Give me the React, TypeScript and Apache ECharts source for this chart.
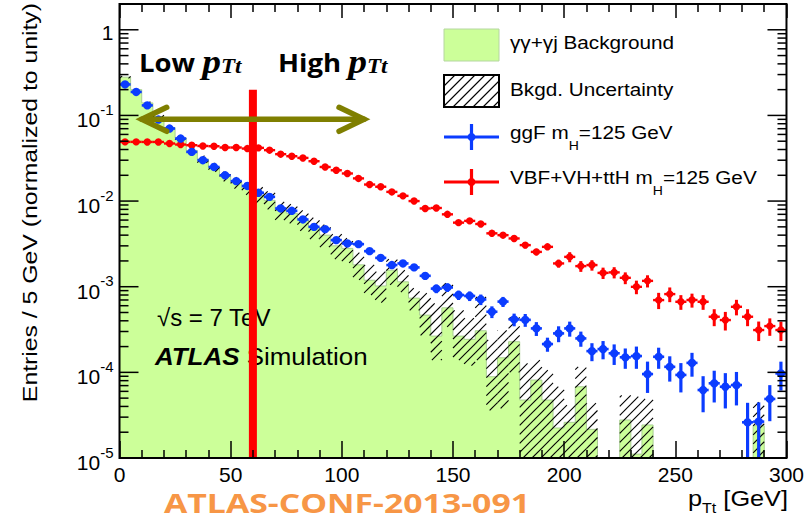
import React, { useEffect, useRef } from 'react';
import * as echarts from 'echarts';

// Binning of the p_Tt histogram (GeV)
const BIN_WIDTH = 5;
const X_MIN = 0;
const X_MAX = 300;
const Y_MIN = 1e-5;
const Y_MAX = 2;

// gamma-gamma + gamma-jet background, per bin (normalized)
const bkgValues = [
  0.28, 0.2, 0.14, 0.097, 0.072, 0.054, 0.039, 0.031, 0.025, 0.0195,
  0.0165, 0.0142, 0.0117, 0.0102, 0.0078, 0.0072, 0.006, 0.0049, 0.004, 0.003,
  0.0028, 0.0018, 0.00119, 0.00102, 0.00156, 0.00114, 0.000736, 0.000466, 0.000265, 0.000567,
  0.000265, 0.000243, 0.000306, 0.0000889, 0.000148, 0.000228, 0.0000475, 0.0000813, 0.0000475, 0.0000224,
  0.0000261, 0.0000679, 0.0000216, 0, 0, 0.0000278, 0.0000111, 0.0000243, 0, 0,
  0, 0, 0, 0, 0, 0, 0, 0.0000238, 0, 0,
];

// Upper / lower edges of the background uncertainty band
const bkgUpper = [
  0.29, 0.207, 0.145, 0.101, 0.076, 0.058, 0.042, 0.034, 0.028, 0.022,
  0.019, 0.017, 0.0145, 0.013, 0.0098, 0.0092, 0.0078, 0.0064, 0.0053, 0.0041,
  0.0037, 0.0025, 0.0018, 0.0015, 0.0021, 0.00156, 0.00096, 0.00084, 0.00064, 0.0011,
  0.00053, 0.00043, 0.00076, 0.00024, 0.00031, 0.00044, 0.000127, 0.000139, 0.000106, 0.000068,
  0.0000415, 0.000116, 0.0000438, 0, 0, 0.000054, 0.000052, 0.000049, 0, 0,
  0, 0, 0, 0, 0, 0, 0, 0.000045, 0, 0,
];
const bkgLower = [
  0.27, 0.193, 0.135, 0.093, 0.068, 0.05, 0.036, 0.028, 0.022, 0.017,
  0.014, 0.0118, 0.0093, 0.008, 0.006, 0.0055, 0.0045, 0.0036, 0.0029, 0.0021,
  0.0019, 0.0012, 0.0008, 0.00065, 0.00105, 0.000865, 0.00053, 0.00027, 0.000139, 0.00034,
  0.000139, 0.00012, 0.000139, 0.000036, 0.000038, 0.0001, 0, 0, 0, 0,
  0, 0, 0, 0, 0, 0, 0, 0, 0, 0,
  0, 0, 0, 0, 0, 0, 0, 0, 0, 0,
];

// ggF, m_H = 125 GeV
const ggfValues = [
  0.23, 0.188, 0.131, 0.0895, 0.0703, 0.0537, 0.0375, 0.03, 0.025, 0.02,
  0.0171, 0.015, 0.0125, 0.0112, 0.0082, 0.0077, 0.0061, 0.005, 0.0047, 0.0035,
  0.0032, 0.00314, 0.0026, 0.00217, 0.00179, 0.00187, 0.00168, 0.00134, 0.00095, 0.00098,
  0.0008, 0.00078, 0.00071, 0.00051, 0.00067, 0.000415, 0.00041, 0.000326, 0.000214, 0.000285,
  0.000326, 0.000249, 0.000177, 0.000187, 0.000167, 0.00015, 0.000155, 0.0000955, 0.000152, 0.000116,
  0.0000933, 0.000129, 0.0000622, 0.0000745, 0.0000679, 0.0000711, 0.0000261, 0.0000266, 0.0000489, 0.0000973,
];
const ggfErrors = [
  0.002, 0.0018, 0.0015, 0.0012, 0.0011, 0.0009, 0.0008, 0.0007, 0.0006, 0.0005,
  0.0005, 0.0005, 0.0004, 0.0004, 0.0003, 0.0003, 0.0003, 0.0003, 0.0003, 0.0002,
  0.0002, 0.0002, 0.00018, 0.00017, 0.00015, 0.00015, 0.00015, 0.00013, 0.00011, 0.00011,
  0.0001, 0.0001, 0.0001, 0.00008, 0.00009, 0.00007, 0.00007, 0.00006, 0.00004, 0.00006,
  0.000065, 0.00005, 0.000042, 0.000045, 0.000045, 0.00004, 0.000045, 0.000038, 0.000042, 0.000038,
  0.000035, 0.00004, 0.000028, 0.00003, 0.00003, 0.00003, 0.000018, 0.000018, 0.000022, 0.000036,
];

// VBF + VH + ttH, m_H = 125 GeV
const vbfValues = [
  0.0491, 0.0491, 0.049, 0.049, 0.047, 0.0457, 0.0449, 0.044, 0.0437, 0.0422,
  0.0422, 0.041, 0.0418, 0.0393, 0.0353, 0.0334, 0.0319, 0.0292, 0.025, 0.0229,
  0.021, 0.0184, 0.0156, 0.0147, 0.0128, 0.0115, 0.01, 0.0082, 0.0083, 0.007,
  0.0056, 0.00587, 0.0054, 0.0042, 0.004, 0.00366, 0.00306, 0.00255, 0.00292, 0.00187,
  0.00223, 0.00174, 0.00179, 0.00145, 0.00147, 0.00127, 0.000997, 0.00117, 0.000698, 0.00082,
  0.000667, 0.0007, 0.000667, 0.000446, 0.000408, 0.000583, 0.000446, 0.000312, 0.000347, 0.000312,
];
const vbfErrors = [
  0.0008, 0.0008, 0.0008, 0.0008, 0.0008, 0.0008, 0.0007, 0.0007, 0.0007, 0.0007,
  0.0006, 0.0006, 0.0006, 0.0006, 0.0006, 0.0005, 0.0005, 0.0005, 0.0005, 0.0005,
  0.0005, 0.0005, 0.0004, 0.0004, 0.0004, 0.0003, 0.0003, 0.0003, 0.0003, 0.0003,
  0.0004, 0.0004, 0.0004, 0.0003, 0.0003, 0.0003, 0.00025, 0.00022, 0.00024, 0.0002,
  0.0003, 0.00025, 0.00025, 0.00022, 0.00022, 0.0002, 0.00018, 0.00019, 0.00015, 0.00016,
  0.00013, 0.00013, 0.00013, 0.0001, 0.0001, 0.00012, 0.0001, 0.00008, 0.00008, 0.00008,
];

// Decades that carry a y tick label
const yLabelExponents = [-5, -4, -3, -2, -1, 0];
// Minor-tick multipliers inside each decade
const yTickMultipliers = [1, 2, 3, 4, 5, 6, 7, 8, 9];

// Low / high p_Tt separation and arrow span (GeV, arrow height)
const CUT_X = 60;
const CUT_TOP = 0.2;
const ARROW_FROM = 10;
const ARROW_TO = 110;
const ARROW_Y = 0.09;

const FONT = "'Liberation Sans', Arial, Helvetica, sans-serif";
const GREEN = '#ccff99';
const BLUE = '#0b3cff';
const RED = '#ff0000';

// "/" hatch segments clipped to a rectangle (x + y = const families)
function hatchLines(x0: number, y0: number, x1: number, y1: number, step: number) {
  const out: number[][] = [];
  const start = Math.ceil((x0 + y0) / step) * step;
  for (let c = start; c <= x1 + y1; c += step) {
    const xa = Math.max(x0, c - y1);
    const xb = Math.min(x1, c - y0);
    if (xb > xa) out.push([xa, c - xa, xb, c - xb]);
  }
  return out;
}

function binLow(i: number) {
  return X_MIN + i * BIN_WIDTH;
}

function pointSeries(name: string, values: number[], errors: number[], color: string, r: number, w: number) {
  const data = values.map((v, i) => [binLow(i) + BIN_WIDTH / 2, v, errors[i], binLow(i), binLow(i) + BIN_WIDTH]);
  return {
    type: 'custom',
    name,
    z: 4,
    silent: true,
    clip: true,
    encode: { x: 0, y: 1 },
    data,
    renderItem: (_p: any, api: any) => {
      const x = api.value(0);
      const v = api.value(1);
      const e = api.value(2);
      const c = api.coord([x, v]);
      const l = api.coord([api.value(3), v]);
      const h = api.coord([api.value(4), v]);
      const top = api.coord([x, v + e]);
      const bot = api.coord([x, Math.max(v - e, Y_MIN)]);
      return {
        type: 'group',
        children: [
          { type: 'line', shape: { x1: l[0], y1: c[1], x2: h[0], y2: c[1] }, style: { stroke: color, lineWidth: w } },
          { type: 'line', shape: { x1: c[0], y1: top[1], x2: c[0], y2: bot[1] }, style: { stroke: color, lineWidth: w + 0.6 } },
          { type: 'circle', shape: { cx: c[0], cy: c[1], r }, style: { fill: color } },
        ],
      };
    },
  };
}

function buildOption() {
  const bandData: number[][] = [];
  bkgUpper.forEach((up, i) => {
    if (up > 0) bandData.push([binLow(i), binLow(i) + BIN_WIDTH, up, Math.max(bkgLower[i], Y_MIN)]);
  });

  const legendHatch = hatchLines(444, 75, 499, 107, 10).map((l) => ({
    type: 'line',
    z: 10,
    shape: { x1: l[0], y1: l[1], x2: l[2], y2: l[3] },
    style: { stroke: '#000', lineWidth: 1.1 },
  }));

  const legendText = (y: number, text: string) => ({
    type: 'text',
    z: 10,
    x: 510,
    y,
    scaleX: 1.12,
    style: {
      text,
      fill: '#000',
      font: `18.5px ${FONT}`,
      align: 'left',
      verticalAlign: 'middle',
      rich: {
        t: { fontSize: 18.5, fontFamily: FONT, lineHeight: 20 },
        h: { fontSize: 12.5, fontFamily: FONT, lineHeight: 12, padding: [28, 0, 0, 0] },
      },
    },
  });

  const markerIcon = (y: number, color: string) => [
    { type: 'line', z: 10, shape: { x1: 444, y1: y, x2: 499, y2: y }, style: { stroke: color, lineWidth: 3 } },
    { type: 'line', z: 10, shape: { x1: 471.5, y1: y - 13, x2: 471.5, y2: y + 13 }, style: { stroke: color, lineWidth: 3.2 } },
    { type: 'circle', z: 10, shape: { cx: 471.5, cy: y, r: 4 }, style: { fill: color } },
  ];

  const pttRich = {
    b: { fontFamily: "'Open Sans', sans-serif", fontWeight: 'bold', fontSize: 25, lineHeight: 32 },
    p: { fontFamily: "'Liberation Serif', serif", fontStyle: 'italic', fontWeight: 'bold', fontSize: 34, lineHeight: 32 },
    s: { fontFamily: "'Liberation Serif', serif", fontStyle: 'italic', fontWeight: 'bold', fontSize: 21, lineHeight: 22, padding: [8, 0, 0, 0] },
  };

  return {
    animation: false,
    grid: { left: 119.5, right: 19, top: 4, bottom: 62 },
    xAxis: [
      {
        type: 'value',
        min: X_MIN,
        max: X_MAX,
        interval: 50,
        position: 'bottom',
        z: 6,
        axisLine: { show: false },
        axisTick: { show: true, inside: true, length: 17, lineStyle: { color: '#000', width: 1.5 } },
        minorTick: { show: true, splitNumber: 5, length: 8, lineStyle: { color: '#000', width: 1.5 } },
        splitLine: { show: false },
        minorSplitLine: { show: false },
        axisLabel: { color: '#000', fontFamily: FONT, fontSize: 21, margin: 6 },
      },
      {
        type: 'value',
        min: X_MIN,
        max: X_MAX,
        interval: 50,
        position: 'top',
        z: 6,
        axisLine: { show: false },
        axisTick: { show: true, inside: true, length: 14, lineStyle: { color: '#000', width: 1.5 } },
        minorTick: { show: true, splitNumber: 5, length: 8, lineStyle: { color: '#000', width: 1.5 } },
        splitLine: { show: false },
        minorSplitLine: { show: false },
        axisLabel: { show: false },
      },
    ],
    yAxis: {
      type: 'log',
      logBase: 10,
      min: Y_MIN,
      max: Y_MAX,
      axisLine: { show: false },
      axisTick: { show: false },
      splitLine: { show: false },
      minorTick: { show: false },
      axisLabel: {
        margin: 6,
        color: '#000',
        fontFamily: FONT,
        formatter: (v: number) => {
          const e = Math.log10(v);
          const n = Math.round(e);
          if (Math.abs(e - n) > 1e-3 || yLabelExponents.indexOf(n) < 0) return '';
          if (n === 0) return '{one|1}';
          return `{b|10}{s|${n}}`;
        },
        rich: {
          one: { fontSize: 21, fontFamily: FONT, color: '#000', padding: [6, 0, 0, 0] },
          b: { fontSize: 21, fontFamily: FONT, color: '#000', padding: [9, 0, 0, 0] },
          s: { fontSize: 15, fontFamily: FONT, color: '#000', padding: [0, 0, 12, 0] },
        },
      },
    },
    series: [
      {
        type: 'custom',
        name: 'γγ+γj Background',
        z: 1,
        silent: true,
        clip: true,
        data: [[X_MIN, Y_MIN]],
        renderItem: (_p: any, api: any) => {
          const bottom = api.coord([X_MIN, Y_MIN])[1];
          const pts: number[][] = [api.coord([X_MIN, Y_MIN])];
          bkgValues.forEach((v, i) => {
            const xl = api.coord([binLow(i), Y_MIN])[0];
            const xh = api.coord([binLow(i) + BIN_WIDTH, Y_MIN])[0];
            const y = v > 0 ? api.coord([binLow(i), Math.max(v, Y_MIN)])[1] : bottom;
            pts.push([xl, y], [xh, y]);
          });
          pts.push([api.coord([X_MAX, Y_MIN])[0], bottom]);
          return {
            type: 'group',
            children: [
              { type: 'polygon', shape: { points: pts }, style: { fill: GREEN } },
              { type: 'polyline', shape: { points: pts }, style: { stroke: '#a9cf92', lineWidth: 1, fill: null } },
            ],
          };
        },
      },
      {
        type: 'custom',
        name: 'Bkgd. Uncertainty',
        z: 2,
        silent: true,
        clip: true,
        encode: { x: [0, 1], y: [2, 3] },
        data: bandData,
        renderItem: (_p: any, api: any) => {
          const a = api.coord([api.value(0), api.value(2)]);
          const b = api.coord([api.value(1), api.value(3)]);
          const lines = hatchLines(a[0], a[1], b[0], b[1], 9);
          return {
            type: 'group',
            children: lines.map((l) => ({
              type: 'line',
              shape: { x1: l[0], y1: l[1], x2: l[2], y2: l[3] },
              style: { stroke: '#000', lineWidth: 1.1 },
            })),
          };
        },
      },
      pointSeries('VBF+VH+ttH', vbfValues, vbfErrors, RED, 3.7, 2.4),
      pointSeries('ggF', ggfValues, ggfErrors, BLUE, 4.2, 2.6),
      {
        type: 'custom',
        name: 'cut',
        z: 5,
        silent: true,
        data: [[CUT_X, CUT_TOP]],
        renderItem: (_p: any, api: any) => {
          const t = api.coord([CUT_X, CUT_TOP]);
          const b = api.coord([CUT_X, Y_MIN]);
          const l = api.coord([ARROW_FROM, ARROW_Y]);
          const r = api.coord([ARROW_TO, ARROW_Y]);
          const olive = { stroke: '#7f7f00', lineWidth: 5.5, lineCap: 'round' };
          return {
            type: 'group',
            children: [
              { type: 'line', shape: { x1: t[0], y1: t[1], x2: b[0], y2: b[1] }, style: { stroke: RED, lineWidth: 8 } },
              { type: 'line', shape: { x1: l[0], y1: l[1], x2: r[0], y2: r[1] }, style: olive },
              { type: 'polyline', shape: { points: [[l[0] + 25, l[1] - 12], [l[0], l[1]], [l[0] + 25, l[1] + 12]] }, style: { ...olive, fill: null } },
              { type: 'polyline', shape: { points: [[r[0] - 25, r[1] - 12], [r[0], r[1]], [r[0] - 25, r[1] + 12]] }, style: { ...olive, fill: null } },
            ],
          };
        },
      },
      {
        type: 'custom',
        name: 'frame',
        z: 6,
        silent: true,
        data: [[X_MIN, Y_MIN]],
        renderItem: (_p: any, api: any) => {
          const tl = api.coord([X_MIN, Y_MAX]);
          const br = api.coord([X_MAX, Y_MIN]);
          const children: any[] = [
            {
              type: 'rect',
              shape: { x: tl[0], y: tl[1], width: br[0] - tl[0], height: br[1] - tl[1] },
              style: { stroke: '#000', lineWidth: 2, fill: null },
            },
          ];
          yLabelExponents.forEach((n) => {
            yTickMultipliers.forEach((m) => {
              const v = m * Math.pow(10, n);
              if (v > Y_MAX * 0.999) return;
              const y = api.coord([X_MIN, v])[1];
              const len = m === 1 ? 19 : 9;
              children.push(
                { type: 'line', shape: { x1: tl[0], y1: y, x2: tl[0] + len, y2: y }, style: { stroke: '#000', lineWidth: 1.5 } },
                { type: 'line', shape: { x1: br[0] - len, y1: y, x2: br[0], y2: y }, style: { stroke: '#000', lineWidth: 1.5 } },
              );
            });
          });
          return { type: 'group', children };
        },
      },
    ],
    graphic: [
      // y axis title
      {
        type: 'text',
        x: 30,
        y: 3,
        rotation: Math.PI / 2,
        scaleX: 1.18,
        z: 10,
        style: {
          text: 'Entries / 5 GeV (normalized to unity)',
          font: `21px ${FONT}`,
          fill: '#000',
          align: 'right',
          verticalAlign: 'middle',
        },
      },
      // x axis title
      {
        type: 'text',
        x: 788,
        y: 499,
        scaleX: 1.15,
        z: 10,
        style: {
          text: '{m|p}{s|Tt}{m| [GeV]}',
          align: 'right',
          verticalAlign: 'middle',
          fill: '#000',
          rich: {
            m: { fontSize: 22, fontFamily: FONT, lineHeight: 24 },
            s: { fontSize: 14, fontFamily: FONT, lineHeight: 14, padding: [18, 0, 0, 0] },
          },
        },
      },
      // Low / High p_Tt
      {
        type: 'text',
        x: 139,
        y: 62,
        scaleX: 1.1,
        z: 7,
        style: { text: '{b|Low }{p|p}{s|Tt}', align: 'left', verticalAlign: 'middle', fill: '#000', rich: pttRich },
      },
      {
        type: 'text',
        x: 278,
        y: 62,
        scaleX: 1.1,
        z: 7,
        style: { text: '{b|High }{p|p}{s|Tt}', align: 'left', verticalAlign: 'middle', fill: '#000', rich: pttRich },
      },
      // Energy and experiment labels
      {
        type: 'text',
        x: 157,
        y: 317,
        z: 3,
        style: { text: '√s = 7 TeV', font: `24px ${FONT}`, fill: '#000', align: 'left', verticalAlign: 'middle' },
      },
      {
        type: 'text',
        x: 155,
        y: 356.5,
        scaleX: 1.08,
        z: 3,
        style: {
          text: '{a|ATLAS}{n| Simulation}',
          align: 'left',
          verticalAlign: 'middle',
          fill: '#000',
          rich: {
            a: { fontFamily: FONT, fontSize: 24, fontWeight: 'bold', fontStyle: 'italic' },
            n: { fontFamily: FONT, fontSize: 24 },
          },
        },
      },
      // Conference note reference
      {
        type: 'text',
        x: 347,
        y: 503,
        scaleX: 1.3,
        z: 10,
        style: {
          text: 'ATLAS-CONF-2013-091',
          font: "bold 26px 'Open Sans', sans-serif",
          lineHeight: 26,
          fill: '#f79646',
          align: 'center',
          verticalAlign: 'middle',
        },
      },
      // Legend
      {
        type: 'rect',
        z: 10,
        shape: { x: 444, y: 29, width: 55, height: 32 },
        style: { fill: GREEN, stroke: '#b5d6a0', lineWidth: 1 },
      },
      legendText(42, 'γγ+γj Background'),
      {
        type: 'rect',
        z: 10,
        shape: { x: 444, y: 75, width: 55, height: 32 },
        style: { fill: '#fff', stroke: '#000', lineWidth: 2 },
      },
      ...legendHatch,
      {
        type: 'rect',
        z: 11,
        shape: { x: 444, y: 75, width: 55, height: 32 },
        style: { fill: null, stroke: '#000', lineWidth: 2 },
      },
      legendText(89, 'Bkgd. Uncertainty'),
      ...markerIcon(137, BLUE),
      legendText(132, '{t|ggF m}{h|H}{t|=125 GeV}'),
      ...markerIcon(182, RED),
      legendText(177, '{t|VBF+VH+ttH m}{h|H}{t|=125 GeV}'),
    ],
  };
}

export default function App() {
  const ref = useRef<HTMLDivElement>(null);
  useEffect(() => {
    document.body.style.margin = '0';
    if (!ref.current) return;
    const chart = echarts.init(ref.current, undefined, { renderer: 'svg' });
    chart.setOption(buildOption() as any);
    return () => chart.dispose();
  }, []);
  return <div ref={ref} style={{ width: 807, height: 520, background: '#fff' }} />;
}
